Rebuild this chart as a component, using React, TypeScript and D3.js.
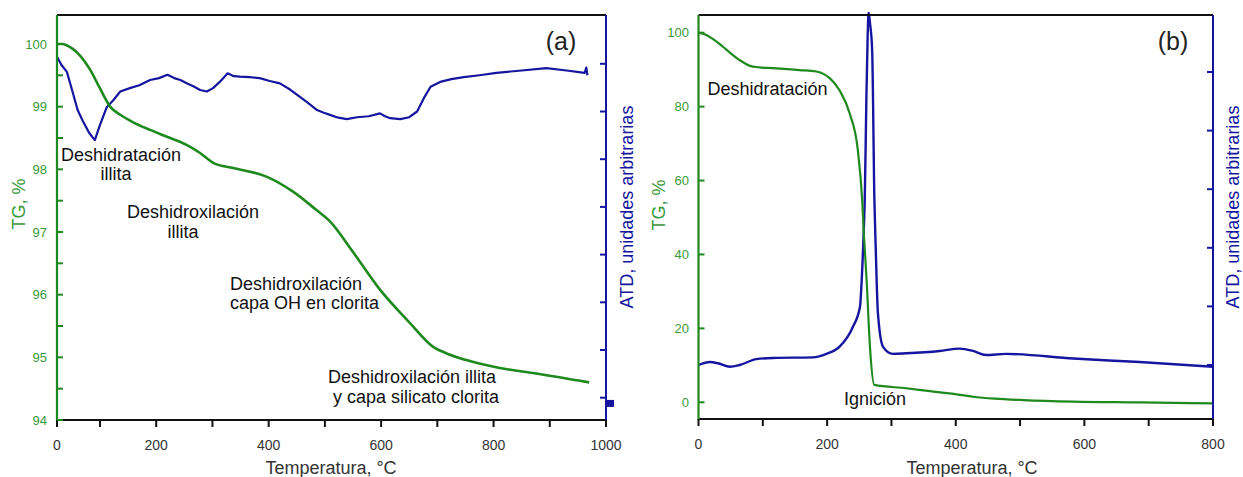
import React from "react";
import * as d3 from "d3";

// ---------- DATA ----------
// Panel (a): TG (%) vs temperature (°C)
const tgA: [number, number][] = [
  [0, 100.0], [12, 100.0], [22, 99.98], [35, 99.93], [53, 99.82], [77, 99.59], [100, 99.29],
  [118, 99.0], [136, 98.87], [159, 98.75], [189, 98.63], [219, 98.52], [254, 98.39],
  [278, 98.26], [302, 98.1], [337, 98.02], [397, 97.88], [444, 97.64], [485, 97.35],
  [509, 97.17], [550, 96.68], [598, 96.08], [651, 95.55], [692, 95.17], [720, 95.05],
  [750, 94.96], [811, 94.83], [870, 94.75], [970, 94.6],
];
// Panel (a): ATD (arbitrary units)
const atdA: [number, number][] = [
  [0, 8.15], [10, 7.98], [23, 7.83], [35, 7.45], [48, 7.03], [60, 6.8], [75, 6.55], [88, 6.4],
  [100, 6.72], [112, 7.09], [124, 7.24], [136, 7.42], [153, 7.49], [170, 7.55], [189, 7.66],
  [205, 7.7], [220, 7.77], [232, 7.7], [243, 7.66], [256, 7.58], [266, 7.53], [278, 7.45],
  [290, 7.42], [301, 7.49], [313, 7.62], [327, 7.8], [338, 7.74], [349, 7.73], [366, 7.72],
  [384, 7.7], [402, 7.64], [420, 7.59], [438, 7.46], [455, 7.31], [470, 7.18], [486, 7.03],
  [497, 6.98], [509, 6.93], [524, 6.87], [539, 6.84], [557, 6.88], [578, 6.9], [598, 6.96],
  [607, 6.9], [616, 6.86], [634, 6.84], [650, 6.88], [664, 7.0], [676, 7.28], [688, 7.52],
  [705, 7.62], [725, 7.68], [747, 7.72], [775, 7.76], [805, 7.81], [850, 7.86], [894, 7.91],
  [930, 7.86], [962, 7.81], [965, 7.92], [967, 7.76],
];
// Panel (a): small marker at bottom of ATD axis
const markerA: [number, number][] = [[1000, 0.88]];

// Panel (b): TG (%)
const tgB: [number, number][] = [
  [0, 100], [12, 99.4], [25, 98.0], [38, 96.2], [51, 94.3], [64, 92.6], [79, 91.1], [95, 90.6],
  [115, 90.4], [157, 89.9], [183, 89.5], [195, 88.8], [204, 87.7], [219, 84.5], [235, 78.2],
  [247.7, 68.3], [254.5, 54.7], [257.3, 45], [261.4, 33.1], [266.6, 15.0], [273.3, 4.7],
  [323, 3.8], [360, 3.0], [390, 2.4], [427, 1.5], [460, 1.0], [505, 0.6], [583, 0.2],
  [687, 0.0], [800, -0.3],
];
// Panel (b): ATD (arbitrary units)
const atdB: [number, number][] = [
  [0, 1.0], [18, 1.05], [30, 1.03], [49, 0.97], [64, 1.0], [90, 1.1], [116, 1.12], [178, 1.13],
  [199, 1.19], [219, 1.31], [240, 1.65], [251, 1.99], [255, 2.74], [257, 3.3], [258.5, 3.82],
  [261, 5.52], [263, 6.6], [264.5, 7.02], [266.5, 6.85], [270, 6.38], [273.5, 3.82],
  [275.5, 3.02], [279, 1.88], [287, 1.31], [302, 1.19], [323, 1.2], [375, 1.24], [406, 1.28],
  [427, 1.24], [447, 1.17], [478, 1.19], [583, 1.11], [686, 1.05], [800, 0.97],
];

// Tick values
const xTicksA = [0, 200, 400, 600, 800, 1000];
const xMinorA = [100, 300, 500, 700, 900];
const yTicksA = [94, 95, 96, 97, 98, 99, 100];
const yMinorA = [94.5, 95.5, 96.5, 97.5, 98.5, 99.5];
const yRTicksA = [1, 2, 3, 4, 5, 6, 7, 8];
const xTicksB = [0, 200, 400, 600, 800];
const xMinorB = [100, 300, 500, 700];
const yTicksB = [0, 20, 40, 60, 80, 100];
const yRTicksB = [1, 2, 3, 4, 5, 6];

// ---------- STYLE ----------
const FONT = "'Liberation Sans', Arial, Helvetica, sans-serif";
const GREEN = "#1e8a1e";
const GREEN_TXT = "#3a9a3a";
const BLUE = "#1515a0";
const DARK = "#222";

type Ann = { t: string; x: number; y: number; anchor: "start" | "middle" };

export default function App() {
  // Panel (a) scales
  const A = { left: 57, right: 606, top: 15, bottom: 420 };
  const xA = d3.scaleLinear().domain([0, 100, 1000]).range([57, 100, 606]);
  const yA = d3.scaleLinear().domain([94, 100]).range([420, 44]);
  const yAR = d3.scaleLinear().domain([1, 8]).range([397.7, 63.8]);

  // Panel (b) scales
  const B = { left: 698.5, right: 1213, top: 15, bottom: 419 };
  const xB = d3.scaleLinear().domain([0, 800]).range([698.5, 1213]);
  const yB = d3.scaleLinear().domain([0, 100]).range([402.3, 32.7]);
  const yBR = d3.scaleLinear().domain([1, 6]).range([365, 72]);

  const lineA = d3.line<[number, number]>().x((d) => xA(d[0])).y((d) => yA(d[1])).curve(d3.curveMonotoneX);
  const lineAR = d3.line<[number, number]>().x((d) => xA(d[0])).y((d) => yAR(d[1])).curve(d3.curveLinear);
  const lineB = d3.line<[number, number]>().x((d) => xB(d[0])).y((d) => yB(d[1])).curve(d3.curveMonotoneX);
  const lineBR = d3.line<[number, number]>().x((d) => xB(d[0])).y((d) => yBR(d[1])).curve(d3.curveMonotoneX);

  const annA: Ann[] = [
    { t: "Deshidratación", x: 121, y: 161, anchor: "middle" },
    { t: "illita", x: 116, y: 180, anchor: "middle" },
    { t: "Deshidroxilación", x: 193, y: 218, anchor: "middle" },
    { t: "illita", x: 183, y: 238, anchor: "middle" },
    { t: "Deshidroxilación", x: 230, y: 290, anchor: "start" },
    { t: "capa OH en clorita", x: 230, y: 309, anchor: "start" },
    { t: "Deshidroxilación illita", x: 412, y: 383, anchor: "middle" },
    { t: "y capa silicato clorita", x: 416, y: 403, anchor: "middle" },
  ];
  const annB: Ann[] = [
    { t: "Deshidratación", x: 707.5, y: 95, anchor: "start" },
    { t: "Ignición", x: 844, y: 405, anchor: "start" },
  ];

  return (
    <svg
      width={1243}
      height={477}
      style={{ position: "fixed", left: 0, top: 0, background: "#fff" }}
      fontFamily={FONT}
    >
      <defs>
        <clipPath id="clipA">
          <rect x={A.left} y={A.top - 4} width={A.right - A.left} height={A.bottom - A.top + 4} />
        </clipPath>
        <clipPath id="clipB">
          <rect x={B.left} y={B.top - 3} width={B.right - B.left} height={B.bottom - B.top + 3} />
        </clipPath>
      </defs>
      <rect x={0} y={0} width={1243} height={477} fill="#fff" />

      {/* ================= PANEL A ================= */}
      <g>
        <g clipPath="url(#clipA)">
          <path d={lineAR(atdA) || ""} fill="none" stroke={BLUE} strokeWidth={2.2} strokeLinejoin="round" />
          <path d={lineA(tgA) || ""} fill="none" stroke={GREEN} strokeWidth={2.6} strokeLinejoin="round" />
        </g>
        <line x1={A.left} x2={A.right} y1={A.top} y2={A.top} stroke="#111" strokeWidth={2} />
        <line x1={A.left} x2={A.right} y1={A.bottom} y2={A.bottom} stroke="#111" strokeWidth={2} />
        <line x1={A.left} x2={A.left} y1={A.top} y2={A.bottom + 1} stroke={GREEN} strokeWidth={2.2} />
        <line x1={A.right} x2={A.right} y1={A.top} y2={A.bottom + 1} stroke={BLUE} strokeWidth={2} />
        {[...xTicksA, ...xMinorA].map((t) => (
          <line key={"xa" + t} x1={xA(t)} x2={xA(t)} y1={A.bottom} y2={A.bottom + 7} stroke="#111" strokeWidth={2} />
        ))}
        {xTicksA.map((t) => (
          <text key={"xal" + t} x={xA(t)} y={450} textAnchor="middle" fontSize={14} fill="#333">
            {t}
          </text>
        ))}
        {[...yTicksA, ...yMinorA].map((t) => (
          <line key={"ya" + t} x1={A.left} x2={A.left + 6} y1={yA(t)} y2={yA(t)} stroke={GREEN} strokeWidth={2} />
        ))}
        {yTicksA.map((t) => (
          <text key={"yal" + t} x={47} y={yA(t) + 4.5} textAnchor="end" fontSize={13} fill={GREEN_TXT}>
            {t}
          </text>
        ))}
        {yRTicksA.map((t) => (
          <line key={"yra" + t} x1={A.right - 6} x2={A.right} y1={yAR(t)} y2={yAR(t)} stroke={BLUE} strokeWidth={2} />
        ))}
        {markerA.map((d, i) => (
          <rect key={"mk" + i} x={xA(d[0])} y={yAR(d[1]) - 3.5} width={8} height={7} fill={BLUE} />
        ))}
        <text x={331} y={474} textAnchor="middle" fontSize={18} fill="#333">
          Temperatura, °C
        </text>
        <text transform="translate(25,204) rotate(-90)" textAnchor="middle" fontSize={18} fill={GREEN_TXT}>
          TG, %
        </text>
        <text transform="translate(633,207) rotate(-90)" textAnchor="middle" fontSize={18} fill={BLUE}>
          ATD, unidades arbitrarias
        </text>
        <text x={561} y={50} textAnchor="middle" fontSize={25} fill={DARK}>
          (a)
        </text>
        {annA.map((a, i) => (
          <text key={"anA" + i} x={a.x} y={a.y} textAnchor={a.anchor} fontSize={18} fill="#111">
            {a.t}
          </text>
        ))}
      </g>

      {/* ================= PANEL B ================= */}
      <g>
        <g clipPath="url(#clipB)">
          <path d={lineBR(atdB) || ""} fill="none" stroke={BLUE} strokeWidth={2.4} strokeLinejoin="round" />
          <path d={lineB(tgB) || ""} fill="none" stroke={GREEN} strokeWidth={2.2} strokeLinejoin="round" />
        </g>
        <line x1={B.left} x2={B.right} y1={B.top} y2={B.top} stroke="#111" strokeWidth={2} />
        <line x1={B.left} x2={B.right} y1={B.bottom} y2={B.bottom} stroke="#111" strokeWidth={2} />
        <line x1={B.left} x2={B.left} y1={B.top} y2={B.bottom + 1} stroke={GREEN} strokeWidth={2.2} />
        <line x1={B.right} x2={B.right} y1={B.top} y2={B.bottom + 1} stroke={BLUE} strokeWidth={2} />
        {[...xTicksB, ...xMinorB].map((t) => (
          <line key={"xb" + t} x1={xB(t)} x2={xB(t)} y1={B.bottom} y2={B.bottom + 7} stroke="#111" strokeWidth={2} />
        ))}
        {xTicksB.map((t) => (
          <text key={"xbl" + t} x={xB(t)} y={449} textAnchor="middle" fontSize={14} fill="#333">
            {t}
          </text>
        ))}
        {yTicksB.map((t) => (
          <line key={"yb" + t} x1={B.left} x2={B.left + 6} y1={yB(t)} y2={yB(t)} stroke={GREEN} strokeWidth={2} />
        ))}
        {yTicksB.map((t) => (
          <text key={"ybl" + t} x={689} y={yB(t) + 4.5} textAnchor="end" fontSize={13} fill={GREEN_TXT}>
            {t}
          </text>
        ))}
        {yRTicksB.map((t) => (
          <line key={"yrb" + t} x1={B.right - 6} x2={B.right} y1={yBR(t)} y2={yBR(t)} stroke={BLUE} strokeWidth={2} />
        ))}
        <text x={972} y={474} textAnchor="middle" fontSize={18} fill="#333">
          Temperatura, °C
        </text>
        <text transform="translate(665,205) rotate(-90)" textAnchor="middle" fontSize={18} fill={GREEN_TXT}>
          TG, %
        </text>
        <text transform="translate(1239,207) rotate(-90)" textAnchor="middle" fontSize={18} fill={BLUE}>
          ATD, unidades arbitrarias
        </text>
        <text x={1173} y={50} textAnchor="middle" fontSize={25} fill={DARK}>
          (b)
        </text>
        {annB.map((a, i) => (
          <text key={"anB" + i} x={a.x} y={a.y} textAnchor={a.anchor} fontSize={18} fill="#111">
            {a.t}
          </text>
        ))}
      </g>
    </svg>
  );
}
